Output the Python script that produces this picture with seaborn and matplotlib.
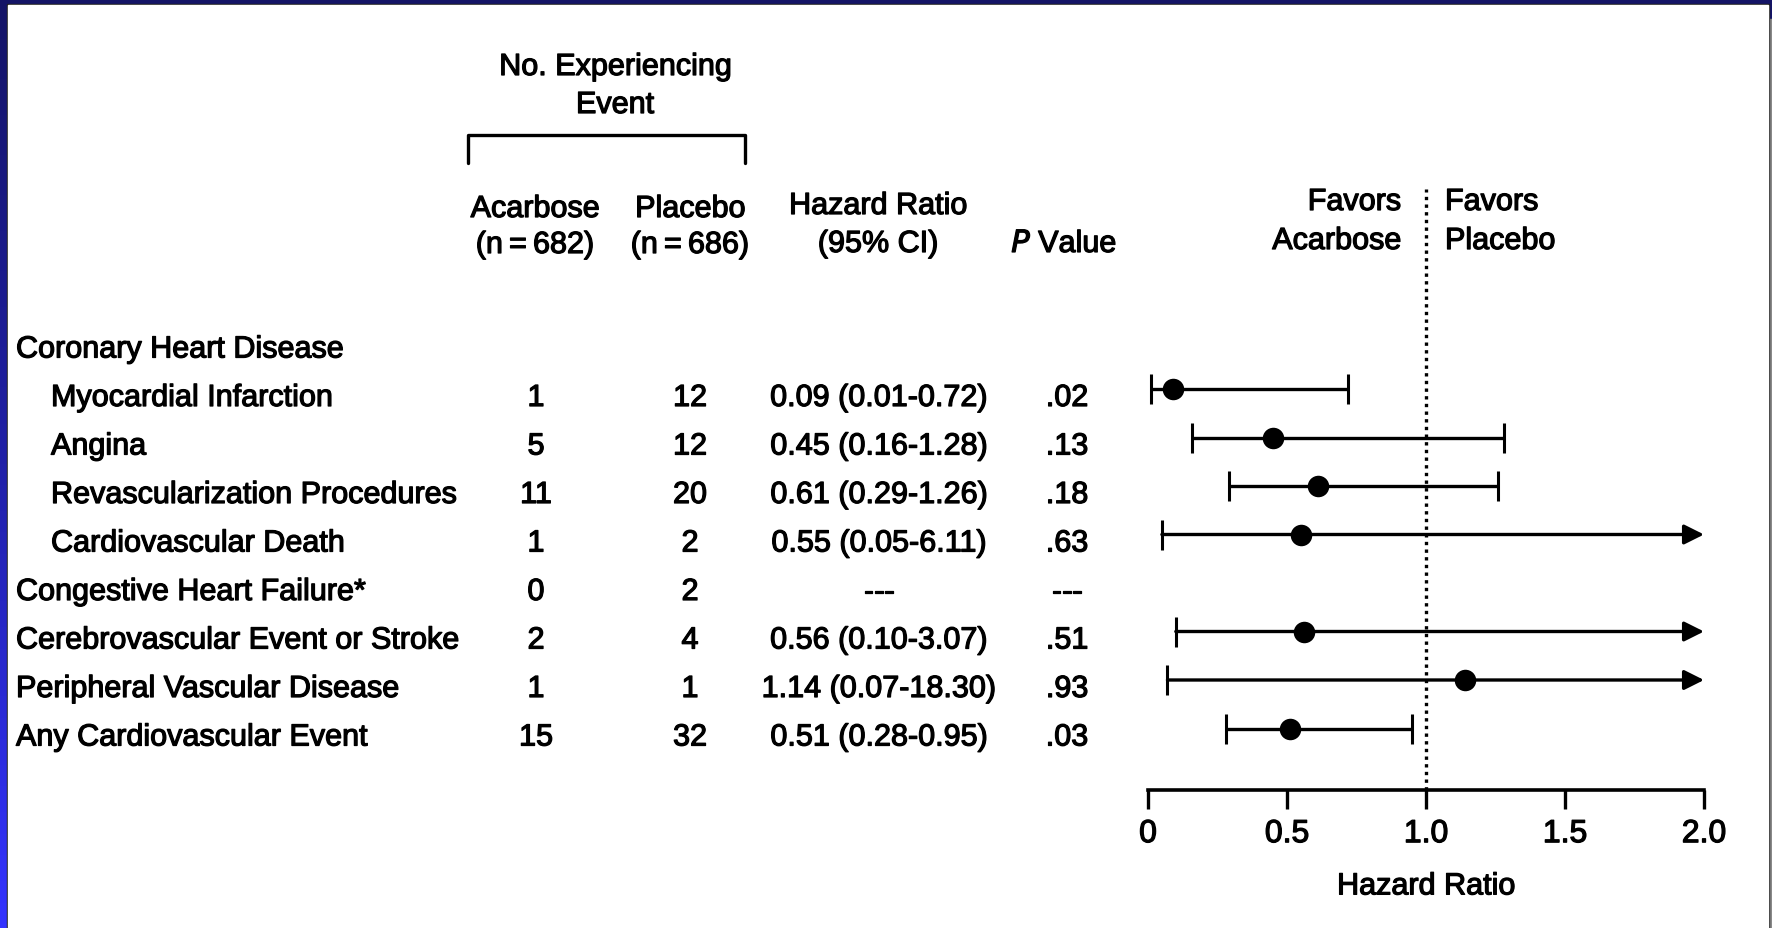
import numpy as np
import pandas as pd
import matplotlib
matplotlib.use('Agg')
import matplotlib.pyplot as plt
import matplotlib.transforms as mtransforms
import matplotlib.patheffects as pe
from matplotlib.colors import LinearSegmentedColormap
from matplotlib.patches import Rectangle
import seaborn as sns

# data
labels = ["Coronary Heart Disease", "Myocardial Infarction", "Angina",
          "Revascularization Procedures", "Cardiovascular Death",
          "Congestive Heart Failure*", "Cerebrovascular Event or Stroke",
          "Peripheral Vascular Disease", "Any Cardiovascular Event"]
indented = [False, True, True, True, True, False, False, False, False]
acarbose_n = ["", "1", "5", "11", "1", "0", "2", "1", "15"]
placebo_n = ["", "12", "12", "20", "2", "2", "4", "1", "32"]
hr = [np.nan, 0.09, 0.45, 0.61, 0.55, np.nan, 0.56, 1.14, 0.51]
ci_lo = [np.nan, 0.01, 0.16, 0.29, 0.05, np.nan, 0.10, 0.07, 0.28]
ci_hi = [np.nan, 0.72, 1.28, 1.26, 6.11, np.nan, 3.07, 18.30, 0.95]
p_values = ["", ".02", ".13", ".18", ".63", "---", ".51", ".93", ".03"]
x_ticks = [0, 0.5, 1.0, 1.5, 2.0]
x_ticklabels = ["0", "0.5", "1.0", "1.5", "2.0"]
x_max = 2.0

df = pd.DataFrame({"label": labels, "hr": hr, "lo": ci_lo, "hi": ci_hi})
df["row"] = np.arange(len(df))

sns.set_theme(style="white")
plt.rcParams['font.family'] = ['Liberation Sans', 'DejaVu Sans']
FS = 22
# scanned print looks heavier than a clean regular weight
thick = [pe.withStroke(linewidth=0.9, foreground="black")]

W, H = 1772, 929
fig = plt.figure(figsize=(W / 100, H / 100), dpi=100)

def fx(x):
    return x / W

def fy(y):
    return 1 - y / H

# blue frame behind a white page
bg = fig.add_axes([0, 0, 1, 1])
cmap = LinearSegmentedColormap.from_list("frame", ["#3434ff", "#2020a8", "#141466"])
grad = np.linspace(0, 1, 256).reshape(-1, 1)
bg.imshow(grad, aspect='auto', cmap=cmap, extent=[0, 1, 0, 1], origin='lower')
bg.add_patch(Rectangle((fx(1769), 0), fx(3), fy(20), color="#8a8a8a"))
bg.add_patch(Rectangle((fx(7), 0), fx(1769) - fx(7), fy(5), color="#222222"))
bg.add_patch(Rectangle((fx(8), 0), fx(1768) - fx(8), fy(6), color="white"))
bg.set_xlim(0, 1)
bg.set_ylim(0, 1)
bg.axis('off')

# forest axes: x 0..2 -> px 1148..1704, spine at px 791
ax_top, ax_bot = 190, 791
ax = fig.add_axes([fx(1148), fy(ax_bot), fx(1704) - fx(1148), fy(ax_top) - fy(ax_bot)])
ax.set_facecolor("none")
row0, step = 341.5, 48.5
ax.set_xlim(0, x_max)
ax.set_ylim((ax_bot - row0) / step, (ax_top - row0) / step)

ax.axvline(1.0, color="black", ls=(0, (1, 1.3)), lw=2.4, zorder=1)

cap = 15 / step
for _, r in df.dropna().iterrows():
    right = min(r.hi, x_max)
    ax.vlines(r.lo, r.row - cap, r.row + cap, color="black", lw=2.2)
    if r.hi > x_max:
        ax.annotate("", xy=(right, r.row), xytext=(r.lo, r.row),
                    arrowprops=dict(arrowstyle='-|>', color="black", lw=2.4,
                                    mutation_scale=30, shrinkA=0, shrinkB=0))
    else:
        ax.hlines(r.row, r.lo, right, color="black", lw=2.4)
        ax.vlines(right, r.row - cap, r.row + cap, color="black", lw=2.2)

sns.scatterplot(data=df.dropna(), x="hr", y="row", color="black", s=240,
                edgecolor="black", linewidth=0, zorder=3, legend=False, ax=ax)

for s in ["top", "left", "right"]:
    ax.spines[s].set_visible(False)
ax.spines["bottom"].set_linewidth(2.6)
ax.spines["bottom"].set_color("black")
ax.set_xticks(x_ticks)
ax.set_xticklabels(x_ticklabels, fontsize=FS + 1, path_effects=thick)
ax.set_yticks([])
ax.tick_params(axis='x', direction='out', length=14, width=2.4, pad=7,
               colors="black", bottom=True)
ax.set_xlabel("Hazard Ratio", fontsize=FS, color="black", labelpad=16,
              path_effects=thick)
ax.set_ylabel("")

# table columns, rows tied to the forest axes
tr = mtransforms.blended_transform_factory(fig.transFigure, ax.transData)
base = 17 / step
for i, r in df.iterrows():
    x0 = 51 if indented[i] else 16
    if i == 0:
        hr_txt = ""
    elif np.isnan(hr[i]):
        hr_txt = "---"
    else:
        hr_txt = f"{hr[i]:.2f} ({ci_lo[i]:.2f}-{ci_hi[i]:.2f})"
    cells = [(x0, labels[i], "left"), (536, acarbose_n[i], "center"),
             (690, placebo_n[i], "center"), (879, hr_txt, "center"),
             (1067, p_values[i], "center")]
    for cx, txt, ha in cells:
        ax.text(fx(cx), i + base, txt, transform=tr, fontsize=FS, ha=ha,
                va="baseline", color="black", path_effects=thick)

# column headers
def head(x, y, s, ha="center"):
    fig.text(fx(x), fy(y), s, fontsize=FS, ha=ha, va="center", color="black",
             path_effects=thick)

head(615, 68, "No. Experiencing")
head(615, 106, "Event")
bg.plot([fx(468), fx(468), fx(745), fx(745)], [fy(164), fy(136), fy(136), fy(164)],
        color="black", lw=2.4)
head(535, 210, "Acarbose")
head(535, 246, "(n\u2009=\u2009682)")
head(690, 210, "Placebo")
head(690, 246, "(n\u2009=\u2009686)")
head(878, 207, "Hazard Ratio")
head(878, 245, "(95% CI)")
head(1064, 245, "$\\it{P}$ Value")
head(1401, 203, "Favors", ha="right")
head(1401, 242, "Acarbose", ha="right")
head(1445, 203, "Favors", ha="left")
head(1445, 242, "Placebo", ha="left")

fig.savefig("out.png", dpi=100)
